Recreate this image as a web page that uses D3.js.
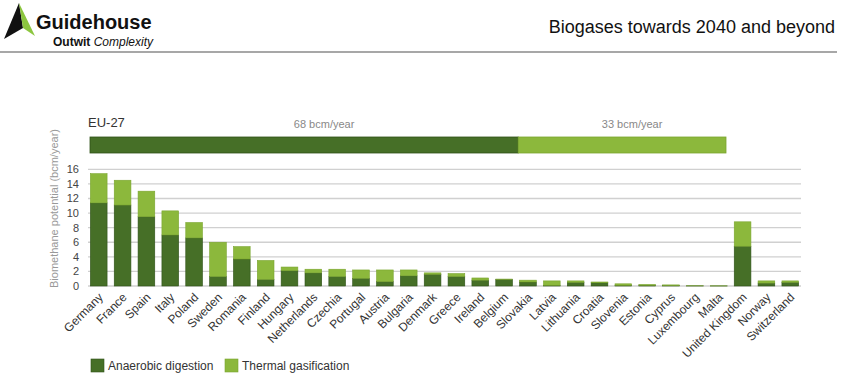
<!DOCTYPE html>
<html><head><meta charset="utf-8">
<script src="https://cdn.jsdelivr.net/npm/d3@7"></script>
<style>
html,body{margin:0;padding:0;background:#fff;}
svg{display:block;font-family:"Liberation Sans",Arial,Helvetica,sans-serif;}
</style></head>
<body><svg id="c" width="850" height="387"></svg>
<script>
const countries = ["Germany","France","Spain","Italy","Poland","Sweden","Romania","Finland","Hungary","Netherlands","Czechia","Portugal","Austria","Bulgaria","Denmark","Greece","Ireland","Belgium","Slovakia","Latvia","Lithuania","Croatia","Slovenia","Estonia","Cyprus","Luxembourg","Malta","United Kingdom","Norway","Switzerland"];
const anaerobic = [11.4,11.1,9.5,7.0,6.6,1.3,3.7,0.9,2.1,1.8,1.3,1.05,0.6,1.4,1.6,1.3,0.8,0.9,0.55,0.1,0.5,0.45,0.1,0.1,0.05,0.02,0.01,5.45,0.4,0.5];
const thermal   = [4.0,3.4,3.5,3.3,2.1,4.7,1.7,2.6,0.5,0.5,1.0,1.15,1.6,0.8,0.2,0.4,0.3,0.05,0.25,0.6,0.2,0.1,0.2,0.1,0.1,0.01,0.01,3.35,0.3,0.2];
const yTicks = [0,2,4,6,8,10,12,14,16];
const euSeries = ["Anaerobic digestion","Thermal gasification"];
const euValues = [68,33];
const euLabels = ["68 bcm/year","33 bcm/year"];
const legendLabels = ["Anaerobic digestion","Thermal gasification"];
const colors = ["#466f27","#8cb83c"];
const strokes = ["#2f5218","#7aa52f"];

const svg = d3.select("#c");

// header
svg.append("polygon").attr("points","19,3 4,39 23,28").attr("fill","#111");
svg.append("polygon").attr("points","19,3 23,28 35,36").attr("fill","#8cc63f");
svg.append("text").attr("x",36).attr("y",29).attr("font-size",20).attr("font-weight","bold").attr("fill","#111").text("Guidehouse");
const sub = svg.append("text").attr("x",53).attr("y",46).attr("font-size",12).attr("fill","#111");
sub.append("tspan").attr("font-weight","bold").text("Outwit ");
sub.append("tspan").attr("font-style","italic").text("Complexity");
svg.append("text").attr("x",835).attr("y",33).attr("text-anchor","end").attr("font-size",18).attr("fill","#111").text("Biogases towards 2040 and beyond");
svg.append("line").attr("x1",0).attr("x2",837).attr("y1",52).attr("y2",52).attr("stroke","#8a8a8a").attr("stroke-width",1.5);

// scales
const x = d3.scaleBand().domain(countries).range([88,801]).paddingInner(0.3).paddingOuter(0.1);
const y = d3.scaleLinear().domain([0,16]).range([286,169.3]);

// gridlines
svg.append("g").selectAll("line").data(yTicks).join("line")
  .attr("x1",88).attr("x2",801).attr("y1",d=>y(d)).attr("y2",d=>y(d))
  .attr("stroke","#d0d0d0").attr("stroke-width",1.3);
// y labels
svg.append("g").selectAll("text").data(yTicks).join("text")
  .attr("x",79).attr("y",d=>y(d)).attr("dy","0.35em").attr("text-anchor","end")
  .attr("font-size",11).attr("fill","#444").text(d=>d);
svg.append("text").attr("transform","translate(58,288) rotate(-90)").attr("text-anchor","start")
  .attr("font-size",11).attr("fill","#999").text("Biomethane potential (bcm/year)");

// stacked bars
const data = countries.map((c,i)=>({c, a:anaerobic[i], t:thermal[i]}));
const stack = d3.stack().keys(["a","t"])(data);
svg.append("g").selectAll("g").data(stack).join("g")
  .attr("fill",(d,i)=>colors[i]).attr("stroke",(d,i)=>strokes[i]).attr("stroke-width",0.6)
  .selectAll("rect").data(d=>d).join("rect")
  .attr("x",d=>x(d.data.c)).attr("width",x.bandwidth())
  .attr("y",d=>y(d[1])).attr("height",d=>Math.max(0,y(d[0])-y(d[1])));

// x labels
svg.append("g").selectAll("text").data(countries).join("text")
  .attr("transform",d=>`translate(${x(d)+x.bandwidth()/2+5},${298}) rotate(-45)`)
  .attr("text-anchor","end").attr("font-size",12).attr("fill","#333").text(d=>d);

// EU-27 bar
const xt = d3.scaleLinear().domain([0,d3.sum(euValues)]).range([90,726]);
const cum = d3.cumsum(euValues);
const euSeg = euValues.map((v,i)=>({v, x0: cum[i]-v, x1: cum[i], label: euLabels[i], i}));
svg.append("text").attr("x",88).attr("y",127).attr("font-size",13).attr("fill","#333").text("EU-27");
svg.append("g").selectAll("rect").data(euSeg).join("rect")
  .attr("x",d=>xt(d.x0)).attr("width",d=>xt(d.x1)-xt(d.x0))
  .attr("y",137).attr("height",16).attr("fill",d=>colors[d.i])
  .attr("stroke",d=>strokes[d.i]).attr("stroke-width",0.8);
const labelShift = [20,10];
svg.append("g").selectAll("text").data(euSeg).join("text")
  .attr("x",d=>(xt(d.x0)+xt(d.x1))/2+labelShift[d.i]).attr("y",128).attr("text-anchor","middle")
  .attr("font-size",11).attr("fill","#888").text(d=>d.label);

// legend
const lg = svg.append("g").selectAll("g").data(legendLabels).join("g")
  .attr("transform",(d,i)=>`translate(${i===0?91:225},359)`);
lg.append("rect").attr("width",13).attr("height",13).attr("fill",(d,i)=>colors[i]).attr("stroke",(d,i)=>strokes[i]).attr("stroke-width",0.6);
lg.append("text").attr("x",17).attr("y",11).attr("font-size",12).attr("fill","#333").text(d=>d);
</script></body></html>
